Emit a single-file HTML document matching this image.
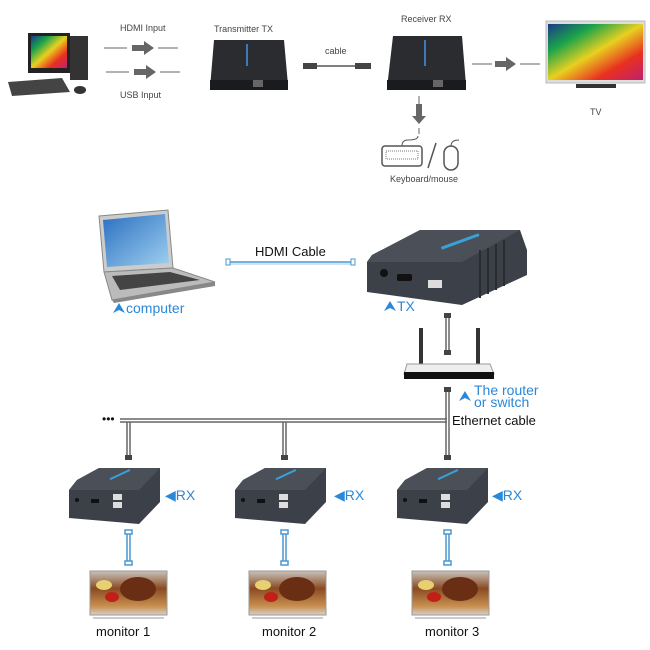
<!DOCTYPE html>
<html><head><meta charset="utf-8"><style>
html,body{margin:0;padding:0;background:#fff}
svg{display:block}
text{font-family:"Liberation Sans",sans-serif}
</style></head><body>
<svg width="650" height="650" viewBox="0 0 650 650" xmlns="http://www.w3.org/2000/svg">
<defs>
<linearGradient id="rb" x1="0" y1="0" x2="1" y2="1">
<stop offset="0" stop-color="#1a3a8a"/><stop offset=".25" stop-color="#1aa34a"/><stop offset=".5" stop-color="#e8d020"/><stop offset=".75" stop-color="#e83020"/><stop offset="1" stop-color="#c02070"/>
</linearGradient>
<linearGradient id="food" x1="0" y1="0" x2="0" y2="1">
<stop offset="0" stop-color="#c8c2ba"/><stop offset=".4" stop-color="#8a4a22"/><stop offset=".8" stop-color="#c89050"/><stop offset="1" stop-color="#d8d0c8"/>
</linearGradient>
<linearGradient id="lap" x1="0" y1="0" x2="1" y2="1">
<stop offset="0" stop-color="#2a6fc0"/><stop offset="1" stop-color="#9fd0f0"/>
</linearGradient>
<g id="rxbox">
<path d="M8,12 L30,0 L91,0 L91,34 L70,56 L0,50 L0,22 Z" fill="#3c4048"/>
<path d="M8,12 L30,0 L91,0 L70,22 L0,22 Z" fill="#4a4f58"/>
<rect x="40" y="6" width="22" height="2" fill="#3aa0d8" transform="rotate(-25 50 7)"/>
<circle cx="8" cy="32" r="2" fill="#111"/>
<rect x="22" y="31" width="8" height="4" fill="#111"/>
<rect x="44" y="26" width="9" height="6" fill="#ddd"/>
<rect x="44" y="34" width="9" height="6" fill="#ddd"/>
</g>
<g id="mon">
<rect x="0" y="0" width="77" height="44" fill="url(#food)" stroke="#999"/>
<ellipse cx="14" cy="14" rx="8" ry="5" fill="#e8d070"/>
<ellipse cx="22" cy="26" rx="7" ry="5" fill="#c02018"/>
<ellipse cx="48" cy="18" rx="18" ry="12" fill="#6a2e14"/>
<line x1="3" y1="47" x2="74" y2="47" stroke="#999"/>
</g>
</defs>

<rect x="28" y="33" width="42" height="40" fill="#222"/>
<rect x="31" y="36" width="36" height="32" fill="url(#rb)"/>
<rect x="70" y="36" width="18" height="44" fill="#333"/>
<polygon points="8,82 62,78 70,92 12,96" fill="#444"/>
<ellipse cx="80" cy="90" rx="6" ry="4" fill="#333"/>
<g fill="#666" stroke="#666">
<line x1="104" y1="48" x2="127" y2="48"/><line x1="158" y1="48" x2="178" y2="48"/>
<rect x="132" y="45" width="12" height="6" stroke="none"/><polygon points="144,41 154,48 144,55" stroke="none"/>
<line x1="106" y1="72" x2="129" y2="72"/><line x1="160" y1="72" x2="180" y2="72"/>
<rect x="134" y="69" width="12" height="6" stroke="none"/><polygon points="146,65 156,72 146,79" stroke="none"/>
<line x1="472" y1="64" x2="492" y2="64"/><line x1="520" y1="64" x2="540" y2="64"/>
<rect x="495" y="61" width="12" height="6" stroke="none"/><polygon points="506,57 516,64 506,71" stroke="none"/>
<line x1="419" y1="96" x2="419" y2="104"/><line x1="419" y1="128" x2="419" y2="134"/>
<rect x="416" y="104" width="6" height="12" stroke="none"/><polygon points="412,116 426,116 419,124" stroke="none"/>
</g>
<text x="120" y="31" font-size="9" fill="#444">HDMI Input</text>
<text x="120" y="98" font-size="9" fill="#444">USB Input</text>
<text x="214" y="32" font-size="9" fill="#444">Transmitter TX</text>
<text x="325" y="54" font-size="9" fill="#444">cable</text>
<text x="401" y="22" font-size="9" fill="#444">Receiver RX</text>
<text x="590" y="115" font-size="9" fill="#444">TV</text>
<text x="390" y="182" font-size="9" fill="#444">Keyboard/mouse</text>
<path d="M214,40 L284,40 L288,85 L210,88 Z" fill="#2a2c30"/>
<rect x="210" y="80" width="78" height="10" fill="#1a1b1e"/>
<rect x="253" y="80" width="10" height="7" fill="#666"/>
<rect x="246" y="44" width="2" height="22" fill="#3a7ab8"/>
<rect x="303" y="63" width="14" height="6" fill="#444"/><line x1="317" y1="66" x2="355" y2="66" stroke="#555" stroke-width="1.5"/><rect x="355" y="63" width="16" height="6" fill="#444"/>
<path d="M393,36 L462,36 L466,85 L387,88 Z" fill="#2a2c30"/>
<rect x="387" y="80" width="79" height="10" fill="#1a1b1e"/>
<rect x="433" y="80" width="10" height="7" fill="#666"/>
<rect x="424" y="40" width="2" height="26" fill="#3a7ab8"/>
<rect x="546" y="21" width="99" height="62" fill="#ddd" stroke="#bbb"/>
<rect x="548" y="24" width="95" height="56" fill="url(#rb)"/>
<rect x="576" y="84" width="40" height="4" fill="#333"/>
<rect x="382" y="146" width="40" height="20" rx="3" fill="none" stroke="#555" stroke-width="1.5"/>
<rect x="386" y="151" width="32" height="8" fill="none" stroke="#777" stroke-dasharray="1 1"/>
<path d="M402,146 q0,-6 6,-6 q10,0 10,-4" fill="none" stroke="#555"/>
<line x1="428" y1="168" x2="436" y2="143" stroke="#555" stroke-width="1.5"/>
<rect x="444" y="146" width="14" height="24" rx="7" fill="none" stroke="#555" stroke-width="1.5"/>
<path d="M451,146 q0,-6 8,-6" fill="none" stroke="#555"/>

<polygon points="99,216 168,210 173,268 104,272" fill="#ccc" stroke="#888"/>
<polygon points="103,220 165,214 169,263 107,267" fill="url(#lap)"/>
<polygon points="104,272 173,268 215,282 112,300" fill="#bbb" stroke="#888"/>
<polygon points="112,276 170,272 200,280 120,290" fill="#444"/>
<polygon points="112,300 215,282 215,286 114,303" fill="#888"/>
<line x1="228" y1="262" x2="353" y2="262" stroke="#4a98d0" stroke-width="1.5"/>
<line x1="228" y1="264" x2="353" y2="264" stroke="#9cc8e8"/>
<rect x="226" y="259" width="4" height="6" fill="#fff" stroke="#4a98d0"/>
<rect x="351" y="259" width="4" height="6" fill="#fff" stroke="#4a98d0"/>
<text x="255" y="256" font-size="13" fill="#111">HDMI Cable</text>
<polygon points="113,313 119,303 125,313 119,310" fill="#2a88d8"/>
<text x="126" y="313" font-size="14" fill="#2a88d8">computer</text>
<path d="M372,255 L420,230 L520,230 L527,250 L527,275 L462,305 L367,292 L367,262 Z" fill="#3c4048"/>
<path d="M372,255 L420,230 L520,230 L462,262 L367,262 Z" fill="#4a4f58"/>
<rect x="440" y="240" width="40" height="3" fill="#3aa0d8" transform="rotate(-20 460 241)"/>
<g stroke="#2a2c30" stroke-width="2"><line x1="480" y1="250" x2="480" y2="298"/><line x1="488" y1="248" x2="488" y2="294"/><line x1="496" y1="244" x2="496" y2="290"/><line x1="504" y1="240" x2="504" y2="286"/></g>
<circle cx="384" cy="273" r="4" fill="#111"/>
<rect x="397" y="274" width="15" height="7" rx="2" fill="#111"/>
<rect x="428" y="280" width="14" height="8" fill="#ddd"/>
<polygon points="384,311 390,301 396,311 390,308" fill="#2a88d8"/>
<text x="397" y="311" font-size="14" fill="#2a88d8">TX</text>
<g stroke="#666" stroke-width="1.5">
<line x1="446" y1="316" x2="446" y2="352"/><line x1="449" y1="316" x2="449" y2="352"/>
<line x1="446" y1="390" x2="446" y2="458"/><line x1="449" y1="390" x2="449" y2="458"/>
<line x1="120" y1="419" x2="447" y2="419"/><line x1="120" y1="422" x2="447" y2="422"/>
<line x1="127" y1="422" x2="127" y2="458"/><line x1="130" y1="422" x2="130" y2="458"/>
<line x1="283" y1="422" x2="283" y2="458"/><line x1="286" y1="422" x2="286" y2="458"/>
</g>
<g fill="#444"><rect x="444" y="313" width="7" height="5"/><rect x="444" y="350" width="7" height="5"/><rect x="444" y="387" width="7" height="5"/>
<rect x="125" y="455" width="7" height="5"/><rect x="281" y="455" width="7" height="5"/><rect x="444" y="455" width="7" height="5"/></g>
<text x="102" y="423" font-size="12" fill="#111">•••</text>
<rect x="419" y="328" width="4" height="38" fill="#333"/><rect x="476" y="328" width="4" height="38" fill="#333"/>
<path d="M407,364 L490,364 L494,374 L404,374 Z" fill="#eee" stroke="#999"/>
<rect x="404" y="372" width="90" height="7" fill="#111"/>
<text x="474" y="395" font-size="14" fill="#2a88d8">The router</text>
<text x="474" y="407" font-size="14" fill="#2a88d8">or switch</text>
<polygon points="459,401 465,391 471,401 465,398" fill="#2a88d8"/>
<text x="452" y="425" font-size="13" fill="#111">Ethernet cable</text>
<use href="#rxbox" x="69" y="468"/><use href="#rxbox" x="235" y="468"/><use href="#rxbox" x="397" y="468"/>
<text x="165" y="500" font-size="14" fill="#2a88d8">◀RX</text>
<text x="334" y="500" font-size="14" fill="#2a88d8">◀RX</text>
<text x="492" y="500" font-size="14" fill="#2a88d8">◀RX</text>
<g stroke="#4a98d0" stroke-width="1.5" fill="#fff">
<line x1="127" y1="533" x2="127" y2="562"/><line x1="130" y1="533" x2="130" y2="562"/>
<line x1="283" y1="533" x2="283" y2="562"/><line x1="286" y1="533" x2="286" y2="562"/>
<line x1="446" y1="533" x2="446" y2="562"/><line x1="449" y1="533" x2="449" y2="562"/>
<rect x="125" y="530" width="7" height="4"/><rect x="125" y="561" width="7" height="4"/>
<rect x="281" y="530" width="7" height="4"/><rect x="281" y="561" width="7" height="4"/>
<rect x="444" y="530" width="7" height="4"/><rect x="444" y="561" width="7" height="4"/>
</g>
<use href="#mon" x="90" y="571"/><use href="#mon" x="249" y="571"/><use href="#mon" x="412" y="571"/>
<text x="96" y="636" font-size="13" fill="#111">monitor 1</text>
<text x="262" y="636" font-size="13" fill="#111">monitor 2</text>
<text x="425" y="636" font-size="13" fill="#111">monitor 3</text>
</svg>
</body></html>
